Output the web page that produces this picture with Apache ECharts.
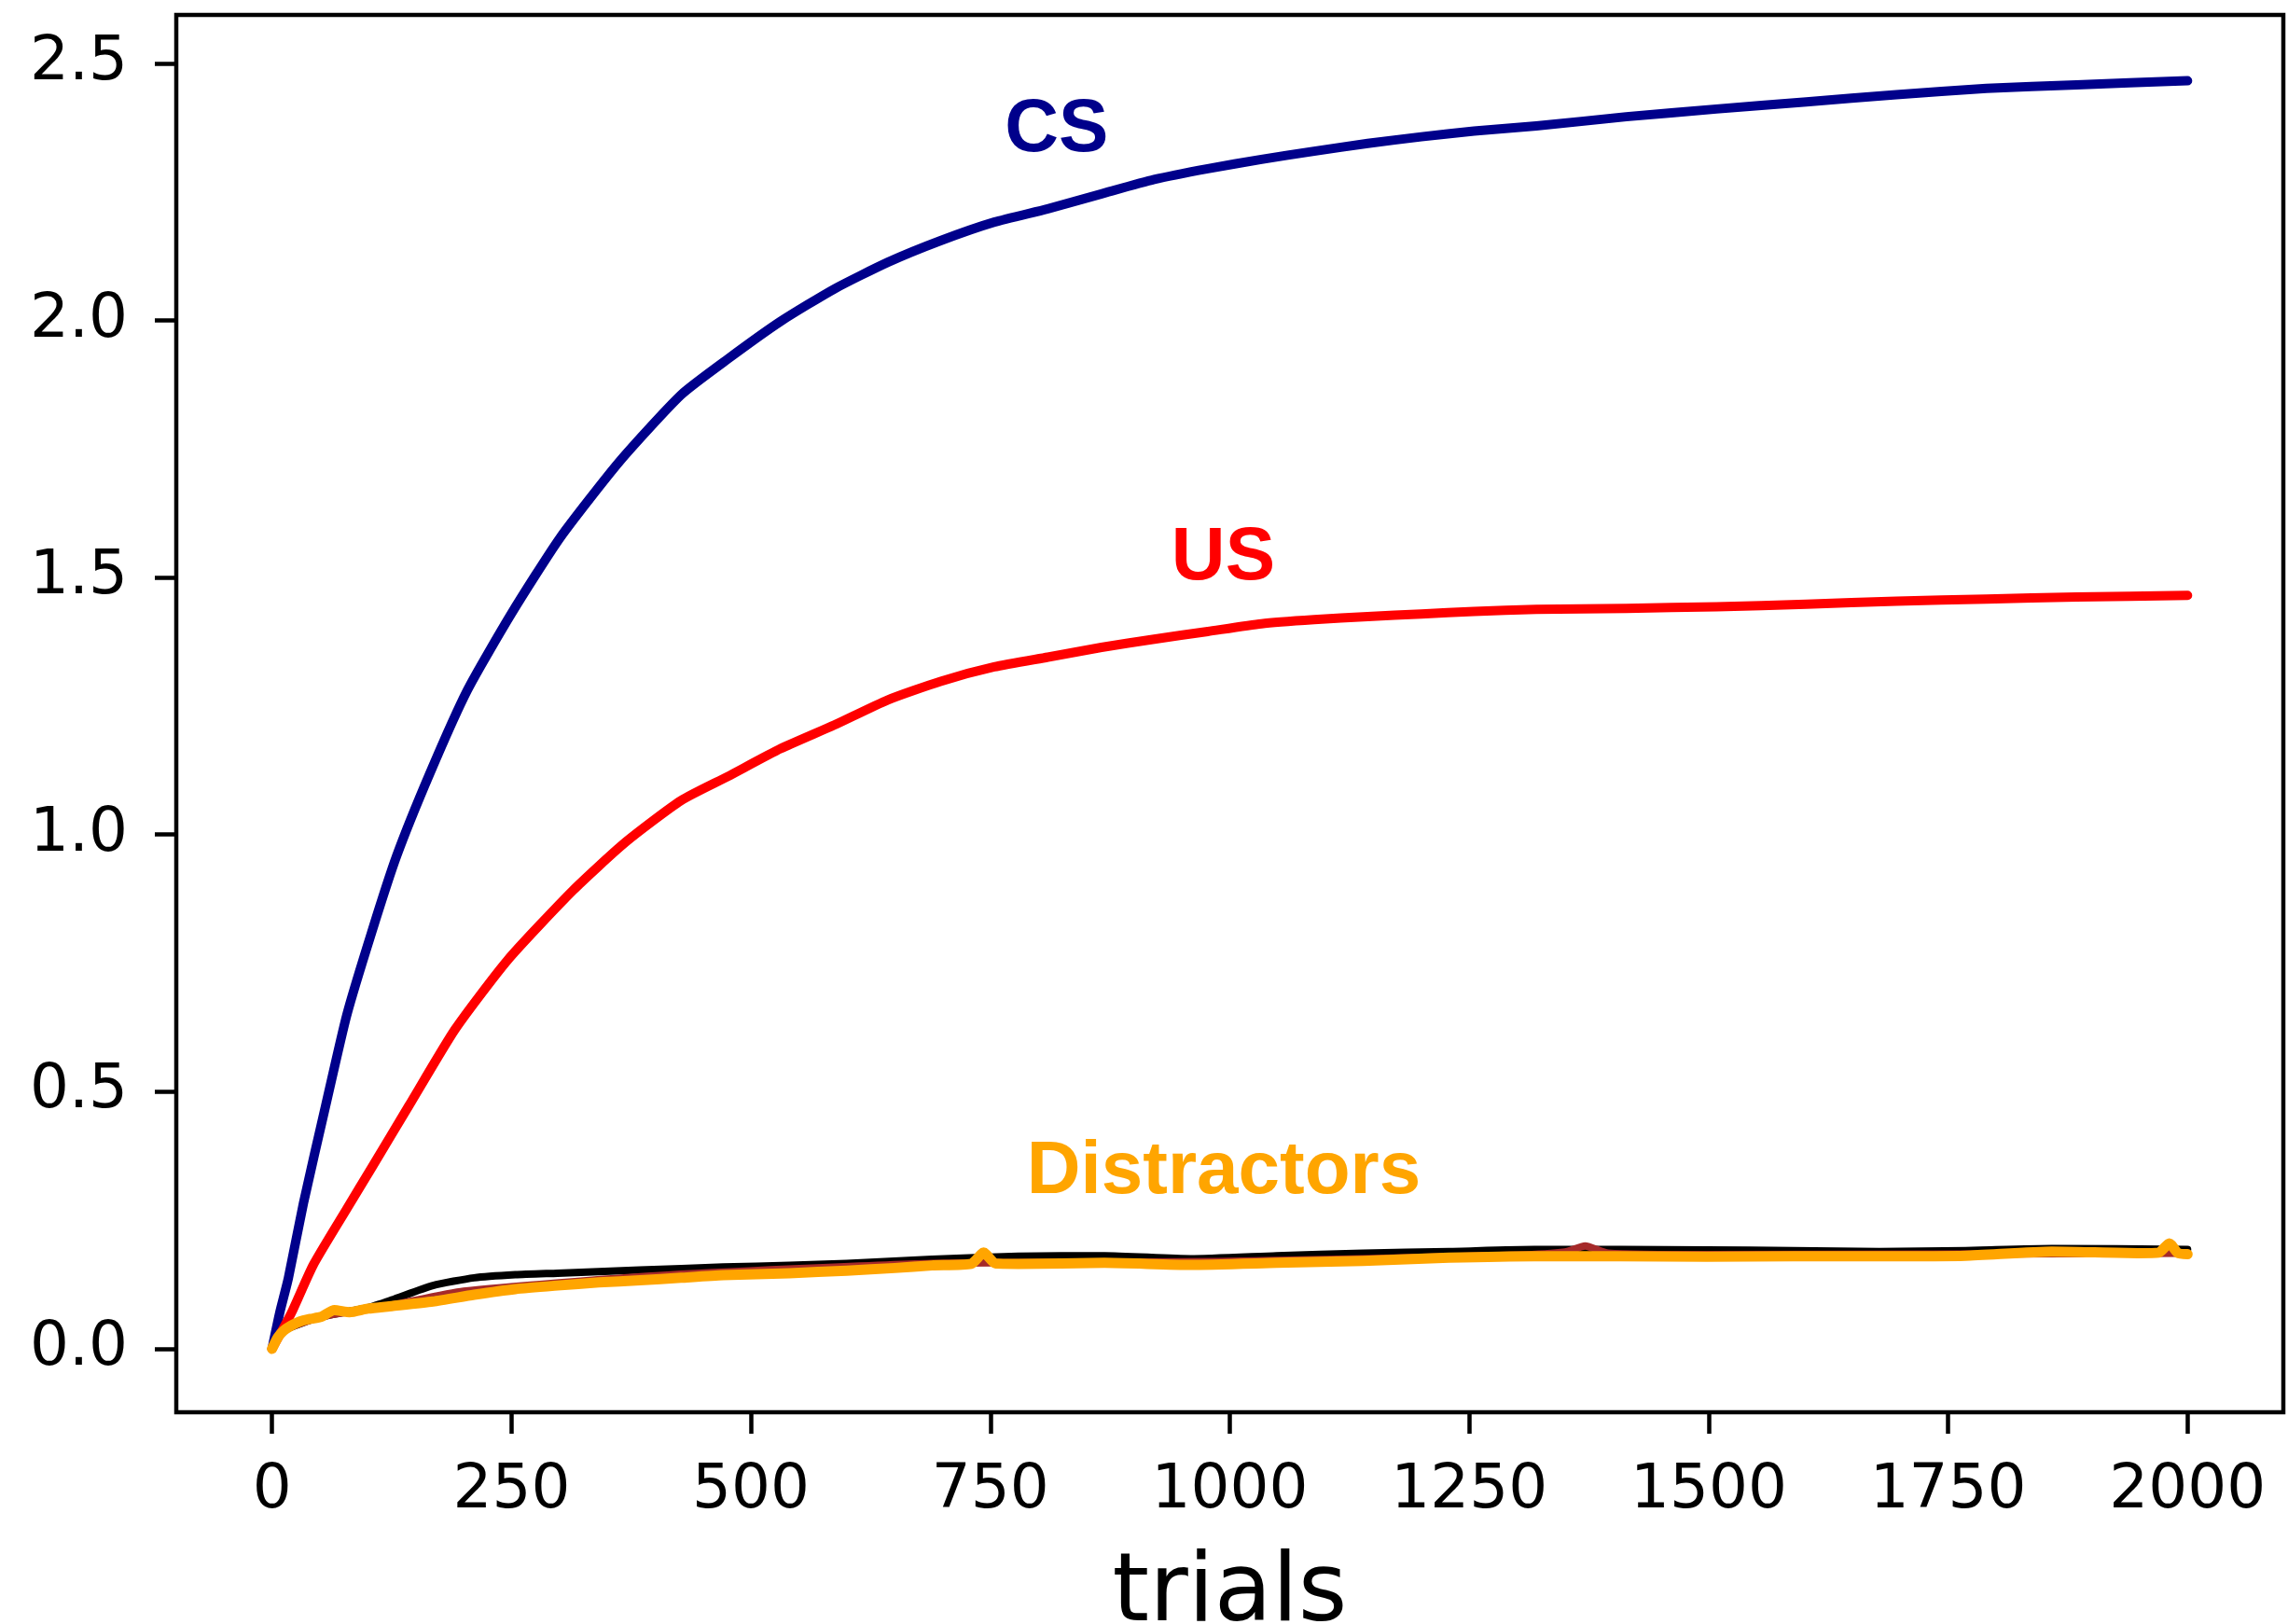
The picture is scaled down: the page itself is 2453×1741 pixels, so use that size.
<!DOCTYPE html>
<html>
<head>
<meta charset="utf-8">
<script src="https://cdn.jsdelivr.net/npm/echarts@6/dist/echarts.min.js"></script>
<style>
  html, body { margin: 0; padding: 0; background: #fff; }
  #chart { width: 2453px; height: 1741px; }
</style>
</head>
<body>
<div id="chart"></div>
<script>
// values
const csTrials = [0, 8, 17, 33, 56, 78, 104, 130, 165, 204, 250, 301, 363, 427, 476, 531, 587, 643, 698, 754, 810, 866, 921, 977, 1033, 1088, 1144, 1200, 1255, 1320, 1414, 1508, 1602, 1696, 1790, 1884, 2000]
const csValues = [0, 0.07, 0.137, 0.285, 0.473, 0.649, 0.81, 0.958, 1.12, 1.281, 1.43, 1.578, 1.726, 1.855, 1.925, 1.998, 2.061, 2.113, 2.155, 2.191, 2.217, 2.246, 2.274, 2.295, 2.313, 2.329, 2.344, 2.357, 2.368, 2.378, 2.396, 2.411, 2.425, 2.439, 2.451, 2.458, 2.466]

const usTrials = [0, 20, 43, 78, 104, 143, 191, 246, 314, 369, 427, 476, 531, 587, 643, 698, 754, 810, 866, 921, 977, 1033, 1088, 1144, 1200, 1255, 1320, 1414, 1508, 1602, 1696, 1790, 1884, 2000]
const usValues = [0, 0.069, 0.163, 0.272, 0.352, 0.473, 0.621, 0.756, 0.891, 0.985, 1.066, 1.113, 1.167, 1.213, 1.262, 1.298, 1.326, 1.345, 1.364, 1.380, 1.395, 1.410, 1.418, 1.424, 1.429, 1.434, 1.438, 1.440, 1.443, 1.448, 1.454, 1.458, 1.462, 1.465]

const blackTrials = [0, 12, 51, 100, 125, 168, 211, 254, 298, 384, 471, 540, 600, 689, 779, 869, 959, 1049, 1139, 1229, 1318, 1408, 1498, 1588, 1678, 1768, 1858, 2000]
const blackValues = [0, 0.035, 0.062, 0.08, 0.095, 0.123, 0.138, 0.144, 0.147, 0.153, 0.159, 0.162, 0.166, 0.174, 0.180, 0.181, 0.175, 0.181, 0.186, 0.189, 0.193, 0.193, 0.192, 0.191, 0.189, 0.191, 0.195, 0.193]

const brownTrials = [0, 12, 51, 125, 200, 400, 689, 1000, 1300, 1350, 1371, 1395, 1500, 2000]
const brownValues = [0, 0.035, 0.062, 0.085, 0.112, 0.142, 0.166, 0.170, 0.182, 0.188, 0.200, 0.186, 0.183, 0.186]

const distTrials = [0, 6, 12, 20, 29, 40, 51, 65, 81, 100, 125, 168, 211, 254, 298, 341, 384, 427, 471, 540, 600, 650, 689, 730, 743, 755, 779, 869, 959, 1049, 1139, 1229, 1318, 1408, 1498, 1588, 1678, 1768, 1858, 1948, 1970, 1981, 1990, 2000]
const distValues = [0, 0.022, 0.035, 0.045, 0.053, 0.058, 0.062, 0.075, 0.071, 0.078, 0.083, 0.092, 0.105, 0.116, 0.123, 0.129, 0.133, 0.138, 0.143, 0.147, 0.152, 0.157, 0.162, 0.165, 0.187, 0.166, 0.165, 0.167, 0.163, 0.167, 0.171, 0.177, 0.180, 0.180, 0.179, 0.180, 0.180, 0.181, 0.189, 0.186, 0.187, 0.205, 0.186, 0.184]

const xTicks = [0, 250, 500, 750, 1000, 1250, 1500, 1750, 2000]
const yTicks = [0, 0.5, 1.0, 1.5, 2.0, 2.5]

// text labels: [text, trial, value, colour]
const annotations = [
  ['CS', 765, 2.369, '#00008B'],
  ['US', 939, 1.536, '#FF0000'],
  ['Distractors', 788, 0.342, '#FFA500']
]

const zip = (xs, ys) => xs.map((x, i) => [x, ys[i]])

const chart = echarts.init(document.getElementById('chart'), null, { renderer: 'canvas' })

const tickFont = { color: '#000', fontSize: 66, fontFamily: 'DejaVu Sans' }

function lineSeries(name, data, color, width) {
  return {
    name,
    type: 'line',
    data,
    showSymbol: false,
    symbol: 'none',
    smooth: 0.2,
    lineStyle: { color, width, cap: 'round', join: 'round' },
    emphasis: { disabled: true }
  }
}

const option = {
  animation: false,
  backgroundColor: '#fff',
  grid: {
    left: 189,
    right: 5,
    top: 16,
    bottom: 227,
    outerBoundsMode: 'none',
    containLabel: false,
    show: true,
    borderColor: '#000',
    borderWidth: 4.5
  },
  xAxis: {
    type: 'value',
    min: -100,
    max: 2100,
    name: 'trials',
    nameLocation: 'middle',
    nameGap: 146,
    nameMoveOverlap: false,
    nameTextStyle: { color: '#000', fontSize: 101, fontFamily: 'DejaVu Sans', verticalAlign: 'top' },
    axisLine: { show: false, onZero: false },
    splitLine: { show: false },
    axisTick: { show: true, length: 23, lineStyle: { color: '#000', width: 4.5 }, customValues: xTicks },
    axisLabel: { ...tickFont, margin: 52, customValues: xTicks, formatter: (v) => String(v) }
  },
  yAxis: {
    type: 'value',
    min: -0.1235,
    max: 2.594,
    axisLine: { show: false, onZero: false },
    splitLine: { show: false },
    axisTick: { show: true, length: 23, lineStyle: { color: '#000', width: 4.5 }, customValues: yTicks },
    axisLabel: { ...tickFont, margin: 52, customValues: yTicks, formatter: (v) => v.toFixed(1) }
  },
  series: [
    lineSeries('CS', zip(csTrials, csValues), '#00008B', 10),
    lineSeries('US', zip(usTrials, usValues), '#FF0000', 10),
    lineSeries('black', zip(blackTrials, blackValues), '#000000', 8),
    lineSeries('brown', zip(brownTrials, brownValues), '#A52A2A', 8),
    lineSeries('Distractors', zip(distTrials, distValues), '#FFA500', 11)
  ]
}

chart.setOption(option)

// place the coloured labels in data coordinates
const graphics = annotations.map(([text, x, y, color]) => {
  const [px, py] = chart.convertToPixel({ gridIndex: 0 }, [x, y])
  return {
    type: 'text',
    x: px,
    y: py,
    style: {
      text,
      fill: color,
      font: 'bold 80px "Liberation Sans", Arial, sans-serif',
      align: 'left',
      verticalAlign: 'middle'
    }
  }
})
chart.setOption({ graphic: graphics })
</script>
</body>
</html>
